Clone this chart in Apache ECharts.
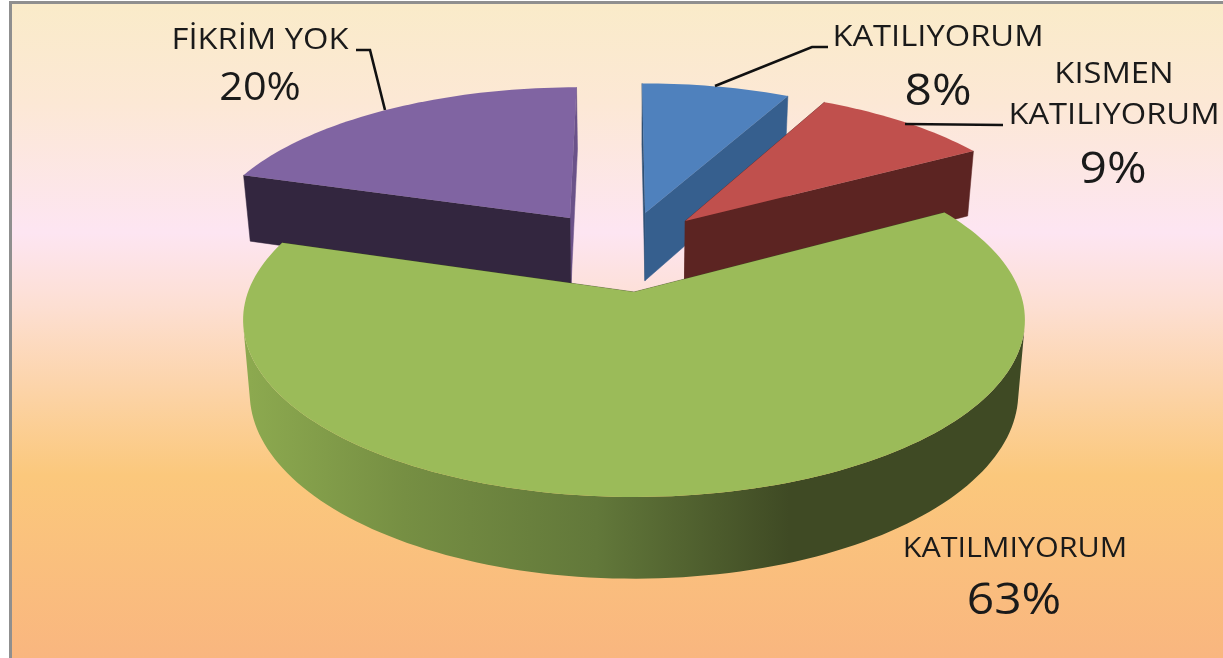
<!DOCTYPE html>
<html>
<head>
<meta charset="utf-8">
<style>html,body{margin:0;padding:0;background:#fff}#c{width:1223px;height:658px}</style>
<script src="https://cdn.jsdelivr.net/npm/echarts@6/dist/echarts.min.js"></script>
</head>
<body>
<div id="c"></div>
<script>
const categories = ['KATILIYORUM', 'KISMEN\nKATILIYORUM', 'KATILMIYORUM', 'FİKRİM YOK'];
const values = [7.6, 9.2, 63.1, 20.1];
const topColors = ['#4f81bd', '#c0504d', '#9bbb59', '#8064a2'];
const wallColors = ['#365f8e', '#5c2422', '#3f4a24', '#33263f'];
const edgeWallColors = ['#2f5075', '#5c2422', '#3f4a24', '#6b5289'];
const drawOrder = [3, 0, 1, 2];
const explode = [[0.031, -0.494], [0.142, -0.44], [0, 0], [-0.178, -0.46]];
const labelLayout = [
  { name: [938, 37], nameSize: 30, pct: [938, 92], pctSize: 44 },
  { name: [1114, 95], nameSize: 30, pct: [1113, 170], pctSize: 44 },
  { name: [1015, 549], nameSize: 28, pct: [1014, 601], pctSize: 44 },
  { name: [260, 40], nameSize: 30, pct: [260, 89], pctSize: 38 }
];
const leaders = [
  [[715, 86], [812, 47], [828, 47]],
  [[905, 124], [1003, 125]],
  null,
  [[356, 50], [370, 50], [385, 110]]
];
const firstAngle = -0.3;
const view = { cx: 634, cy: 292, ax: 386, by: 172.6, k: 0.158, lowScale: 0.983, lowCy: 363.7, lowBy: 181 };

const total = values.reduce((a, b) => a + b, 0);

function project(u, v, low) {
  const w = 1 - view.k * v;
  return low
    ? [view.cx + view.ax * view.lowScale * u / w, view.lowCy + view.lowBy * v / w]
    : [view.cx + view.ax * u / w, view.cy + view.by * v / w];
}
function rimPoint(deg, off, low) {
  const r = deg * Math.PI / 180;
  return project(Math.sin(r) + off[0], -Math.cos(r) + off[1], low);
}
function arc(a0, a1, off, low) {
  const pts = [];
  const n = Math.max(8, Math.ceil((a1 - a0) / 1.5));
  for (let i = 0; i <= n; i++) pts.push(rimPoint(a0 + (a1 - a0) * i / n, off, low));
  return pts;
}
// Range of rim segments whose outer wall faces the viewer.
function visibleRange(top, low) {
  let first = -1, last = -1;
  for (let i = 0; i + 1 < top.length; i++) {
    const dx = top[i + 1][0] - top[i][0], dy = top[i + 1][1] - top[i][1];
    const gx = low[i][0] - top[i][0], gy = low[i][1] - top[i][1];
    if (dx * gy - dy * gx < 0) { if (first < 0) first = i; last = i + 1; }
  }
  return first < 0 ? null : [first, last];
}

const greenWall = new echarts.graphic.LinearGradient(250, 0, 1020, 0, [
  { offset: 0, color: '#8ca94f' },
  { offset: 0.2, color: '#768f43' },
  { offset: 0.45, color: '#62783a' },
  { offset: 0.7, color: '#3f4a24' },
  { offset: 1, color: '#3f4a24' }
], true);

function renderSlice(params, api) {
  const idx = api.value(0);
  const val = api.value(1);
  let before = 0;
  for (let i = 0; i < idx; i++) before += values[i];
  const a0 = firstAngle + before / total * 360;
  const a1 = a0 + val / total * 360;
  const off = explode[idx];
  const base = params.dataIndex * 10;
  const apexT = project(off[0], off[1], false);
  const apexB = project(off[0], off[1], true);
  const topArc = arc(a0, a1, off, false);
  const lowArc = arc(a0, a1, off, true);
  const poly = (pts, fill, z, stroke) => ({
    type: 'polygon', z2: base + z, silent: true,
    shape: { points: pts },
    style: { fill: fill, stroke: stroke === false ? null : fill, lineWidth: 0.5 }
  });
  const startWall = poly([apexT, topArc[0], lowArc[0], apexB], idx === 0 ? edgeWallColors[0] : wallColors[idx], 2);
  const endWall = poly([apexT, topArc[topArc.length - 1], lowArc[lowArc.length - 1], apexB], idx === 3 ? edgeWallColors[3] : wallColors[idx], idx === 3 ? 1 : 2);
  const children = [startWall, endWall];
  const range = visibleRange(topArc, lowArc);
  if (range) {
    const t = topArc.slice(range[0], range[1] + 1);
    const l = lowArc.slice(range[0], range[1] + 1).reverse();
    children.push(poly(t.concat(l), idx === 2 ? greenWall : wallColors[idx], 3, false));
  }
  children.push(poly([apexT].concat(topArc), topColors[idx], 4, false));
  return { type: 'group', children: children };
}

function labelElements() {
  const out = [];
  const stretch = 1.09;
  categories.forEach((name, i) => {
    const l = labelLayout[i];
    out.push({ type: 'text', x: l.name[0], y: l.name[1], scaleX: stretch, z: 10, silent: true,
      style: { text: name, fill: '#1a1a1a', font: l.nameSize + 'px "Open Sans"', lineHeight: 41, align: 'center', verticalAlign: 'middle' } });
    out.push({ type: 'text', x: l.pct[0], y: l.pct[1], scaleX: stretch, z: 10, silent: true,
      style: { text: Math.round(values[i]) + '%', fill: '#1a1a1a', font: l.pctSize + 'px "Open Sans"', align: 'center', verticalAlign: 'middle' } });
    if (leaders[i]) out.push({ type: 'polyline', z: 10, silent: true,
      shape: { points: leaders[i] }, style: { stroke: '#111', lineWidth: 2.6, fill: null } });
  });
  return out;
}

const chart = echarts.init(document.getElementById('c'));
chart.setOption({
  animation: false,
  backgroundColor: '#ffffff',
  graphic: { elements: [
    { type: 'rect', z: 0, silent: true, shape: { x: 9, y: 1, width: 1214, height: 657 }, style: { fill: '#8f8f8f' } },
    { type: 'rect', z: 1, silent: true, shape: { x: 12, y: 4, width: 1211, height: 654 },
      style: { fill: new echarts.graphic.LinearGradient(0, 0, 0, 1, [
        { offset: 0, color: '#faebc9' },
        { offset: 0.15, color: '#fce8d5' },
        { offset: 0.35, color: '#fde5f2' },
        { offset: 0.46, color: '#fddfd3' },
        { offset: 0.72, color: '#fbc87c' },
        { offset: 1, color: '#f9b67f' }
      ]) } }
  ].concat(labelElements()) },
  series: [{
    type: 'custom',
    coordinateSystem: 'none',
    z: 5,
    silent: true,
    renderItem: renderSlice,
    data: drawOrder.map(i => ({ name: categories[i], value: [i, values[i]] }))
  }]
});
</script>
</body>
</html>
